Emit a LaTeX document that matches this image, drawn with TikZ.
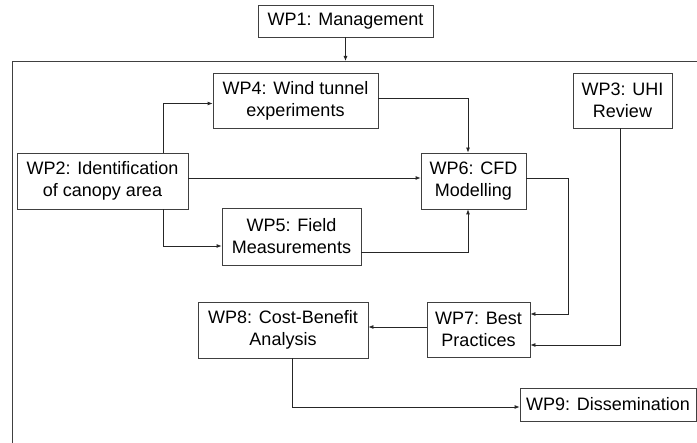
\documentclass[tikz,border=0pt]{standalone}
\usepackage{fontspec}
\setmainfont{Liberation Sans}
\usetikzlibrary{arrows.meta}

\begin{document}
\begin{tikzpicture}[x=1pt,y=-1pt]
    \useasboundingbox (0,0) rectangle (697,443);

    \begin{scope}[every node/.style={draw=black!75,thick,align=center,inner sep=0pt,
                  font=\fontsize{18}{22}\selectfont}]
        \node[minimum width=175pt,minimum height=32pt] (wp1) at (345.5,21) {WP1: Management};
        \node[minimum width=165pt,minimum height=55pt] (wp4) at (295.5,100.5) {WP4: Wind tunnel\\experiments};
        \node[minimum width=99pt,minimum height=55pt]  (wp3) at (622.5,100.5) {WP3: UHI\\Review};
        \node[minimum width=171pt,minimum height=56pt] (wp2) at (102.5,181) {WP2: Identification\\of canopy area};
        \node[minimum width=105pt,minimum height=56pt] (wp6) at (473.5,181) {WP6: CFD\\Modelling};
        \node[minimum width=139pt,minimum height=57pt] (wp5) at (291.5,236.5) {WP5: Field\\Measurements};
        \node[minimum width=170pt,minimum height=56pt] (wp8) at (283,330) {WP8: Cost-Benefit\\Analysis};
        \node[minimum width=103pt,minimum height=55pt] (wp7) at (478.5,329.5) {WP7: Best\\Practices};
        \node[minimum width=176pt,minimum height=33pt] (wp9) at (608,404.5) {WP9: Dissemination};
    \end{scope}

    % open frame round the work packages
    \coordinate (frameBL) at (12,443);
    \coordinate (frameTL) at (12,61);
    \coordinate (frameTR) at (697,61);
    \draw[black!75,thick] (frameBL) -- (frameTL) -- (frameTR);

    \begin{scope}[>={Latex[length=5pt,width=4pt]},
                  every path/.style={draw=black!85,thick}]
        \draw[->] (wp1.south) -- (wp1.south |- frameTL);
        \draw[->] ([xshift=60.5pt]wp2.north) |- ([yshift=-3pt]wp4.west);
        \draw[->] ([xshift=60.5pt]wp2.south) |- ([yshift=-9.5pt]wp5.west);
        \draw[->] ([yshift=3pt]wp2.east) -- ([yshift=3pt]wp6.west);
        \draw[->] ([yshift=2.5pt]wp4.east) -| ([xshift=-5.5pt]wp6.north);
        \draw[->] ([yshift=-15.5pt]wp5.east) -| ([xshift=-5.5pt]wp6.south);
        \draw[->] ([yshift=3pt]wp6.east) -- ++(42,0) |- ([yshift=15.5pt]wp7.east);
        \draw[->] ([xshift=-2.5pt]wp3.south) |- ([yshift=-15.5pt]wp7.east);
        \draw[->] ([yshift=2.5pt]wp7.west) -- ([yshift=3pt]wp8.east);
        \draw[->] ([xshift=9pt]wp8.south) |- ([yshift=-2.5pt]wp9.west);
    \end{scope}
\end{tikzpicture}
\end{document}
